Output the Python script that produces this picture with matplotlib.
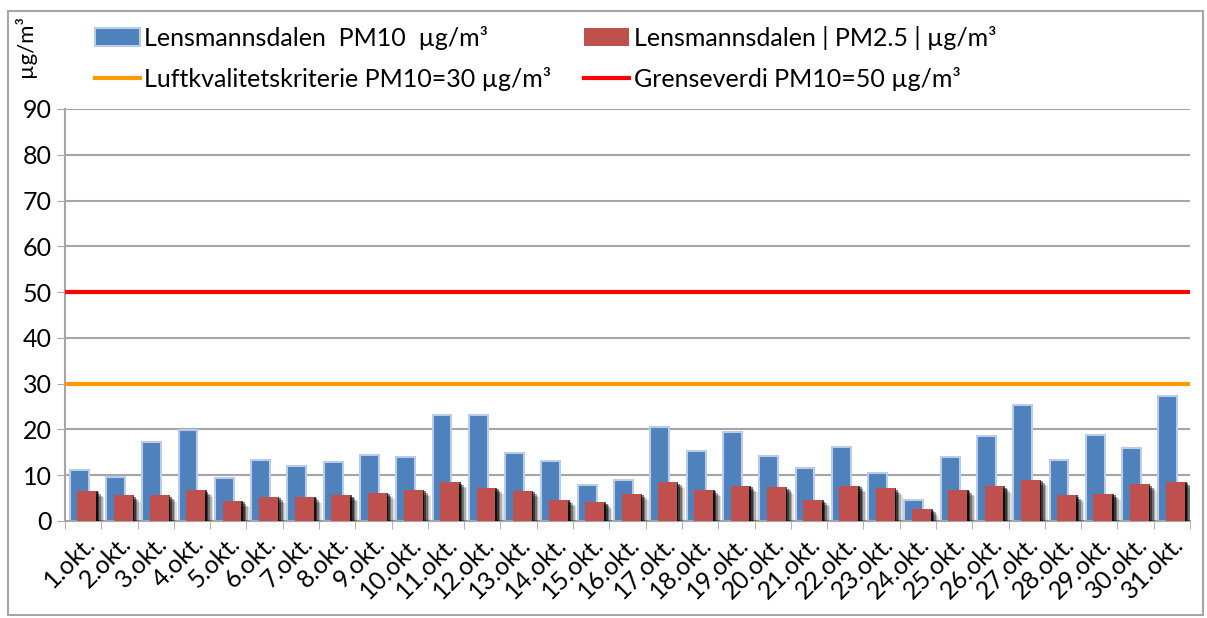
import numpy as np
import matplotlib.pyplot as plt
from matplotlib.patches import Rectangle

plt.rcParams['font.family'] = ['Lato', 'DejaVu Sans']

################################################################
# daily means, october
days = [f"{d}.okt." for d in range(1, 32)]
pm10 = [11.1, 9.7, 17.3, 19.9, 9.3, 13.4, 12.1, 12.8, 14.4, 14.0,
        23.2, 23.2, 14.9, 13.1, 7.9, 9.0, 20.5, 15.4, 19.5, 14.3,
        11.6, 16.2, 10.4, 4.6, 13.9, 18.6, 25.3, 13.3, 18.7, 15.9, 27.2]
pm25 = [6.6, 5.6, 5.6, 6.7, 4.4, 5.3, 5.3, 5.7, 6.2, 6.8,
        8.5, 7.3, 6.6, 4.6, 4.1, 6.0, 8.5, 6.8, 7.7, 7.4,
        4.6, 7.7, 7.1, 2.6, 6.8, 7.6, 9.0, 5.6, 6.0, 8.0, 8.6]
luft_limit = 30
grense_limit = 50
################################################################

fig = plt.figure(figsize=(12.07, 6.18), dpi=100)
ax = fig.add_axes([65 / 1207, 1 - 521 / 618, 1125 / 1207, 412 / 618])

x = np.arange(len(days))
w = 0.52

b10 = ax.bar(x - 0.11, pm10, w, color="#4f81bd", edgecolor="#b9cdea",
             linewidth=1.5, zorder=2)

# blurred shadow behind the red bars
for k, a in enumerate([0.7, 0.5, 0.35, 0.22, 0.12]):
    ax.bar(x + 0.1 + 0.045 * (k + 1), np.array(pm25) - 0.35 * k, w,
           color="black", alpha=a, linewidth=0, zorder=3)
b25 = ax.bar(x + 0.1, pm25, w, color="#c0504d", linewidth=0, zorder=4)

l30 = ax.axhline(luft_limit, color="#ff9900", lw=3, zorder=5)
l50 = ax.axhline(grense_limit, color="#ff0000", lw=3, zorder=5)

ax.set_xlim(-0.5, len(days) - 0.5)
ax.set_ylim(0, 90)
ax.set_yticks(range(0, 91, 10))
ax.yaxis.grid(True, color="#a6a6a6", lw=1.5, zorder=0)
ax.set_axisbelow(True)

ax.set_xticks(x)
ax.set_xticklabels(days, rotation=45, ha="right", rotation_mode="anchor",
                   fontsize=18)
ax.set_xticks(np.arange(-0.5, len(days)), minor=True)
ax.tick_params(axis="x", which="major", length=0, pad=8)
ax.tick_params(axis="x", which="minor", length=6, color="#a6a6a6",
               direction="out")
ax.tick_params(axis="y", length=6, color="#a6a6a6", labelsize=18)

for s in ["top", "right"]:
    ax.spines[s].set_visible(False)
ax.spines["left"].set_color("#a6a6a6")
ax.spines["bottom"].set_color("#a6a6a6")
ax.spines["left"].set_linewidth(1.5)
ax.spines["bottom"].set_linewidth(1.5)

handles = [b10, l30, b25, l50]
labels = ["Lensmannsdalen  PM10  µg/m³",
          "Luftkvalitetskriterie PM10=30 µg/m³",
          "Lensmannsdalen | PM2.5 | µg/m³",
          "Grenseverdi PM10=50 µg/m³"]
fig.legend(handles, labels, ncol=2,
           loc="upper left", bbox_to_anchor=(72 / 1207, 1 - 3 / 618),
           frameon=False, fontsize=18, handlelength=1.8, handletextpad=0.2,
           columnspacing=1.3, labelspacing=0.7)

fig.text(25 / 1207, 1 - 46 / 618, "µg/m³", rotation=90, fontsize=16,
         ha="center", va="center")

fig.patches.append(Rectangle((8 / 1207, 3 / 618), 1195 / 1207, 604 / 618,
                             transform=fig.transFigure, fill=False,
                             edgecolor="#a6a6a6", lw=1.5))

fig.savefig("out.png", dpi=100)
